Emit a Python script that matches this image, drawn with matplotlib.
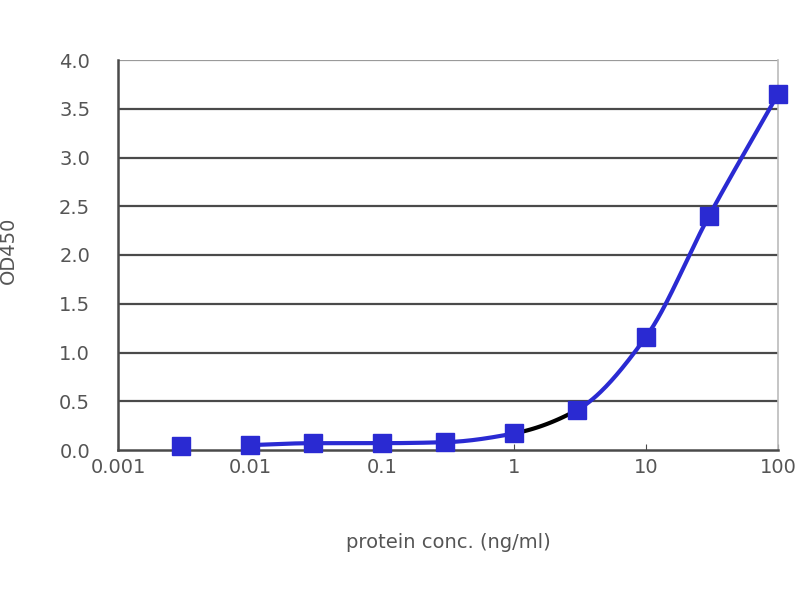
import numpy as np
import matplotlib
matplotlib.use("Agg")
import matplotlib.pyplot as plt

conc = [0.003, 0.01, 0.03, 0.1, 0.3, 1, 3, 10, 30, 100]
od450 = [0.04, 0.05, 0.07, 0.07, 0.08, 0.17, 0.41, 1.16, 2.40, 3.65]
xticks = [0.001, 0.01, 0.1, 1, 10, 100]
xticklabels = ["0.001", "0.01", "0.1", "1", "10", "100"]
yticks = [0.0, 0.5, 1.0, 1.5, 2.0, 2.5, 3.0, 3.5, 4.0]

plt.rcParams['font.family'] = ['DejaVu Sans']

def pchip(x, y, xn):
    x = np.asarray(x, float); y = np.asarray(y, float)
    h = np.diff(x); d = np.diff(y) / h
    n = len(x); m = np.zeros(n)
    for k in range(1, n - 1):
        if d[k-1] * d[k] > 0:
            w1 = 2*h[k] + h[k-1]; w2 = h[k] + 2*h[k-1]
            m[k] = (w1 + w2) / (w1/d[k-1] + w2/d[k])
    m[0] = d[0]; m[-1] = d[-1]
    out = np.empty_like(xn)
    for i, xv in enumerate(xn):
        k = min(max(np.searchsorted(x, xv) - 1, 0), n - 2)
        t = (xv - x[k]) / h[k]
        h00 = 2*t**3 - 3*t**2 + 1; h10 = t**3 - 2*t**2 + t
        h01 = -2*t**3 + 3*t**2; h11 = t**3 - t**2
        out[i] = h00*y[k] + h10*h[k]*m[k] + h01*y[k+1] + h11*h[k]*m[k+1]
    return out

fig = plt.figure(figsize=(8, 6), dpi=100)
ax = fig.add_axes([0.1475, 0.25, 0.825, 0.65])

blue = '#2a2ad2'
txt = '#555555'
lx = np.log10(conc[1:])
ly = od450[1:]
xs = np.linspace(lx[0], lx[-1], 400)
ys = pchip(lx, ly, xs)
lo, hi = np.log10(1), np.log10(3)
mask_black = (xs >= lo) & (xs <= hi)
mask_a = xs <= lo + 0.002
mask_b = xs >= hi - 0.002
ax.plot(10**xs[mask_a], ys[mask_a], color=blue, lw=3, zorder=3, solid_capstyle='round')
ax.plot(10**xs[mask_black], ys[mask_black], color='black', lw=3, zorder=3)
ax.plot(10**xs[mask_b], ys[mask_b], color=blue, lw=3, zorder=3, solid_capstyle='round')
ax.plot(conc, od450, linestyle='none', marker='s', markersize=13, color=blue, zorder=4, clip_on=False)

ax.set_xscale('log')
ax.set_xlim(0.001, 100)
ax.set_ylim(0, 4.0)
ax.set_xticks(xticks)
ax.set_xticklabels(xticklabels)
ax.minorticks_off()
ax.set_yticks(yticks)
ax.set_yticklabels([f"{v:.1f}" for v in yticks])
for v in yticks[1:-1]:
    ax.axhline(v, color='#4a4a4a', lw=1.6, zorder=1)
ax.axhline(4.0, color='#9a9a9a', lw=1.6, zorder=1)

ax.spines['top'].set_visible(False)
ax.spines['right'].set_color('#bbbbbb')
ax.spines['right'].set_linewidth(1.2)
ax.spines['left'].set_color('#4a4a4a')
ax.spines['left'].set_linewidth(1.8)
ax.spines['bottom'].set_color('#4a4a4a')
ax.spines['bottom'].set_linewidth(1.8)

ax.tick_params(axis='y', length=0, labelsize=14, labelcolor=txt, pad=20)
ax.tick_params(axis='x', length=4, direction='in', color='#4a4a4a', labelsize=14, labelcolor=txt, pad=6)

ax.set_xlabel('protein conc. (ng/ml)', fontsize=14, color=txt, labelpad=40)
fig.text(8/800, 1 - 250/600, 'OD450', rotation=90, fontsize=14, color=txt,
         ha='center', va='center')

fig.savefig('out.png', dpi=100)
